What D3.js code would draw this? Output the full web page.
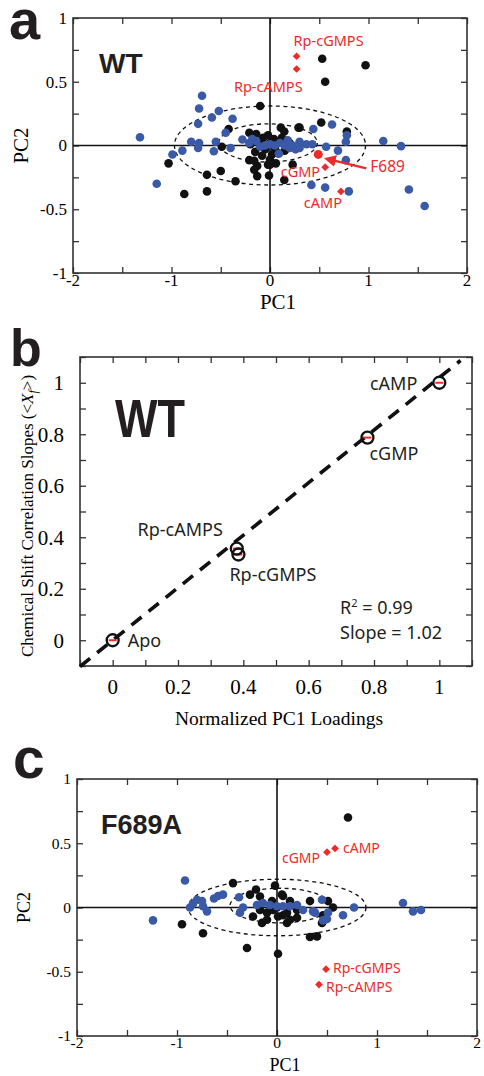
<!DOCTYPE html>
<html>
<head>
<meta charset="utf-8">
<script src="https://cdn.jsdelivr.net/npm/d3@7"></script>
<style>
  body { margin: 0; background: #fff; }
  svg { display: block; }
</style>
</head>
<body>
<div id="chart"></div>
<script>
// ---- data: panel a (WT PCA scores) ----
const wtBlack = [
  [-0.10, 0.31], [-0.42, 0.13], [-0.49, -0.01], [0.11, 0.14], [0.145, 0.11], [0.30, 0.14], [0.52, 0.18],
  [0.29, 0.14], [0.78, 0.11], [0.53, 0.68], [0.97, 0.63], [0.56, 0.50], [-1.03, -0.14], [-0.64, -0.23],
  [-0.50, -0.20], [-0.35, -0.28], [-0.87, -0.38], [-0.64, -0.36], [-0.21, -0.115], [-0.13, -0.16],
  [-0.13, -0.24], [-0.01, -0.235], [-0.02, -0.15], [0.06, -0.14], [0.145, -0.27], [0.23, -0.15],
  [-0.16, -0.12], [-0.16, -0.19], [0.0, -0.15], [-0.21, 0.10], [-0.14, 0.09], [-0.07, 0.06],
  [-0.10, 0.02], [-0.05, -0.03], [0.0, 0.02], [0.05, -0.02], [0.10, 0.03], [0.15, -0.04], [-0.15, -0.05],
  [-0.08, -0.08], [0.02, -0.07], [0.08, -0.06], [0.12, 0.06], [-0.02, 0.08], [0.20, 0.02], [-0.20, 0.01],
  [0.0, -0.11], [0.04, 0.05]
];
const wtBlue = [
  [-1.32, 0.065], [-0.69, 0.39], [-0.72, 0.29], [-0.52, 0.27], [-0.59, 0.22], [-0.38, 0.21], [-0.73, 0.17],
  [-0.45, 0.10], [-0.80, 0.03], [-0.72, 0.02], [-0.73, -0.02], [-0.55, 0.03], [-0.57, -0.045], [-0.89, -0.04],
  [-0.99, -0.07], [-1.15, -0.30], [0.44, 0.13], [0.63, 0.165], [0.78, 0.08], [0.77, 0.03], [1.15, 0.035],
  [1.33, -0.005], [0.57, -0.01], [0.69, -0.04], [0.37, 0.01], [0.43, 0.01], [0.30, 0.03], [0.23, 0.0],
  [0.26, -0.03], [0.77, -0.115], [0.42, -0.31], [0.56, -0.33], [0.80, -0.36], [1.41, -0.345], [1.57, -0.475],
  [0.09, -0.065], [-0.28, 0.047], [-0.21, 0.02], [-0.14, 0.035], [-0.10, -0.01], [-0.05, 0.0], [0.0, 0.01],
  [0.05, 0.0], [0.10, 0.02], [0.15, 0.0], [0.20, -0.02], [-0.18, 0.05], [0.18, 0.04], [-0.40, -0.02], [0.30, -0.02]
];
const wtLigandNames = ["Rp-cGMPS", "Rp-cAMPS", "cGMP", "cAMP"];
const wtLigandX = [0.27, 0.27, 0.56, 0.72];
const wtLigandY = [0.70, 0.60, -0.17, -0.36];
const wtF689 = [0.49, -0.07];
const wtEllipses = [[0, 0, 0.97, 0.31], [-0.02, 0.02, 0.50, 0.15]]; // cx, cy, rx, ry

// ---- data: panel b (correlation slopes vs PC1 loadings) ----
const slopeLigands = ["Apo", "Rp-cAMPS", "Rp-cGMPS", "cGMP", "cAMP"];
const pc1Loadings = [0, 0.38, 0.385, 0.78, 1.0];
const corrSlopes = [0, 0.356, 0.333, 0.787, 1.0];
const fitSlope = 1.02, fitIntercept = 0, fitR2 = 0.99;
const fitRange = [-0.1, 1.065];
const loadingTicks = [0, 0.2, 0.4, 0.6, 0.8, 1];

// ---- data: panel c (F689A PCA scores) ----
const f689aBlack = [
  [0.71, 0.70], [-0.44, 0.19], [-0.95, -0.13], [-0.74, -0.20], [-0.21, 0.14], [-0.17, 0.085], [-0.27, 0.10],
  [-0.02, 0.17], [-0.30, -0.315], [0.01, -0.36], [0.33, -0.23], [0.40, -0.225], [0.05, 0.10], [0.13, 0.05],
  [0.33, 0.05], [0.51, 0.05], [0.56, 0.0], [-0.24, -0.07], [-0.10, -0.095], [0.06, -0.06], [0.13, -0.095],
  [-0.17, -0.02], [-0.10, -0.04], [-0.04, -0.02], [0.01, -0.07], [0.10, -0.04], [0.20, -0.02], [0.46, -0.06],
  [0.45, -0.12], [0.10, -0.12], [0.06, 0.09], [-0.05, 0.05], [0.0, 0.0], [-0.15, -0.12], [0.20, -0.08]
];
const f689aBlue = [
  [-0.92, 0.21], [-1.24, -0.10], [-0.87, 0.0], [-0.84, 0.03], [-0.80, 0.06], [-0.75, 0.05], [-0.74, 0.01],
  [-0.70, -0.03], [-0.63, 0.07], [-0.59, 0.09], [-0.54, 0.10], [-0.38, 0.08], [-0.34, 0.0], [-0.37, -0.04],
  [-0.20, 0.02], [-0.14, 0.035], [-0.07, 0.02], [0.0, 0.01], [0.06, 0.01], [0.13, 0.01], [0.20, 0.02],
  [0.26, -0.02], [0.36, -0.03], [0.45, 0.06], [0.51, -0.04], [0.46, -0.10], [0.66, -0.06], [0.77, 0.0],
  [1.26, 0.035], [1.36, -0.03], [1.44, -0.02], [0.50, -0.09], [0.38, -0.04], [0.48, -0.095]
];
const f689aLigandNames = ["cGMP", "cAMP", "Rp-cGMPS", "Rp-cAMPS"];
const f689aLigandX = [0.50, 0.58, 0.49, 0.42];
const f689aLigandY = [0.43, 0.46, -0.48, -0.60];
const f689aEllipses = [[0, 0, 0.89, 0.22], [0.03, 0.015, 0.50, 0.135]];

const pcTicksX = [-2, -1, 0, 1, 2];
const pcTicksY = [-1, -0.5, 0, 0.5, 1];

// ---- drawing ----
const BLACK = "#111", BLUE = "#3a5aa8", RED = "#ee2b2b", AXIS = "#333";
const SANS = "'Noto Sans', 'Liberation Sans', sans-serif";
const SERIF = "'Liberation Serif', 'DejaVu Serif', serif";
const BOLD = "'Liberation Sans', Arial, sans-serif";

const svg = d3.select("#chart").append("svg").attr("width", 484).attr("height", 1076);

svg.append("defs").append("marker")
  .attr("id", "arrow").attr("viewBox", "0 0 10 10").attr("refX", 2).attr("refY", 5)
  .attr("markerWidth", 5).attr("markerHeight", 5).attr("orient", "auto-start-reverse")
  .append("path").attr("d", "M0,0 L10,5 L0,10 z").attr("fill", RED);

function boxAxes(g, x, y, xMinor, yMinor, tick) {
  const [x0, x1] = x.range(), [y0, y1] = y.range();
  const strip = a => { a.select(".domain").remove(); a.selectAll("line").attr("stroke", AXIS).attr("stroke-width", 1.3); };
  g.append("g").attr("transform", `translate(0,${y0})`)
    .call(d3.axisBottom(x).tickValues(xMinor).tickSize(-tick).tickFormat("")).call(strip);
  g.append("g").attr("transform", `translate(0,${y1})`)
    .call(d3.axisTop(x).tickValues(xMinor).tickSize(-tick).tickFormat("")).call(strip);
  g.append("g").attr("transform", `translate(${x0},0)`)
    .call(d3.axisLeft(y).tickValues(yMinor).tickSize(-tick).tickFormat("")).call(strip);
  g.append("g").attr("transform", `translate(${x1},0)`)
    .call(d3.axisRight(y).tickValues(yMinor).tickSize(-tick).tickFormat("")).call(strip);
  g.append("rect").attr("x", x0).attr("y", y1).attr("width", x1 - x0).attr("height", y0 - y1)
    .attr("fill", "none").attr("stroke", AXIS).attr("stroke-width", 1.6);
}

function tickLabels(g, x, y, xVals, yVals, size, padX, padY) {
  const [y0] = y.range(), [x0] = x.range();
  g.append("g").selectAll("text").data(xVals).join("text")
    .attr("x", d => x(d)).attr("y", y0 + padX).attr("dy", "0.72em")
    .attr("text-anchor", "middle").attr("font-family", SERIF).attr("font-size", size)
    .text(d => d3.format("~g")(d).replace("−", "-"));
  g.append("g").selectAll("text").data(yVals).join("text")
    .attr("x", x0 - padY).attr("y", d => y(d)).attr("dy", "0.35em")
    .attr("text-anchor", "end").attr("font-family", SERIF).attr("font-size", size)
    .text(d => d3.format("~g")(d).replace("−", "-"));
}

function pcPanel(o) {
  const g = svg.append("g");
  const x = d3.scaleLinear().domain([-2, 2]).range([o.left, o.right]);
  const y = d3.scaleLinear().domain([-1, 1]).range([o.bottom, o.top]);

  boxAxes(g, x, y, d3.range(-2, 2.01, 0.5), d3.range(-1, 1.01, 0.25), 6);
  tickLabels(g, x, y, pcTicksX, pcTicksY, o.tickSize, 1, 6);

  // zero lines
  g.append("line").attr("x1", x(-2)).attr("x2", x(2)).attr("y1", y(0)).attr("y2", y(0))
    .attr("stroke", BLACK).attr("stroke-width", 1.6);
  g.append("line").attr("x1", x(0)).attr("x2", x(0)).attr("y1", y(-1)).attr("y2", y(1))
    .attr("stroke", BLACK).attr("stroke-width", 1.6);

  // dashed ellipses
  g.append("g").selectAll("ellipse").data(o.ellipses).join("ellipse")
    .attr("cx", d => x(d[0])).attr("cy", d => y(d[1]))
    .attr("rx", d => x(d[2]) - x(0)).attr("ry", d => y(0) - y(d[3]))
    .attr("fill", "none").attr("stroke", BLACK).attr("stroke-width", 1.3).attr("stroke-dasharray", "4,3.5");

  g.append("g").selectAll("circle").data(o.black).join("circle")
    .attr("cx", d => x(d[0])).attr("cy", d => y(d[1])).attr("r", 4.3).attr("fill", BLACK);
  g.append("g").selectAll("circle").data(o.blue).join("circle")
    .attr("cx", d => x(d[0])).attr("cy", d => y(d[1])).attr("r", 4.3).attr("fill", BLUE);

  const lig = o.names.map((n, i) => ({ name: n, x: o.lx[i], y: o.ly[i] }));
  g.append("g").selectAll("path").data(lig).join("path")
    .attr("transform", d => `translate(${x(d.x)},${y(d.y)}) rotate(45)`)
    .attr("d", d3.symbol(d3.symbolSquare, 30)).attr("fill", RED);
  g.append("g").selectAll("text").data(lig).join("text")
    .attr("x", d => x(d.x) + o.labelOff[d.name][0]).attr("y", d => y(d.y) + o.labelOff[d.name][1])
    .attr("text-anchor", d => o.labelOff[d.name][2])
    .attr("font-family", SANS).attr("font-size", o.ligSize).attr("fill", RED)
    .text(d => d.name);

  if (o.f689) {
    const px = x(o.f689[0]), py = y(o.f689[1]);
    g.append("circle").attr("cx", px).attr("cy", py).attr("r", 4.5).attr("fill", RED);
    g.append("line").attr("x1", px + 48).attr("y1", py + 14).attr("x2", px + 15).attr("y2", py + 6)
      .attr("stroke", RED).attr("stroke-width", 2.4).attr("marker-end", "url(#arrow)");
    g.append("text").attr("x", px + 52).attr("y", py + 18)
      .attr("font-family", SANS).attr("font-size", o.ligSize + 1).attr("fill", RED).text("F689");
  }

  // titles
  g.append("text").attr("x", o.titleX).attr("y", o.titleY)
    .attr("font-family", BOLD).attr("font-weight", "bold").attr("font-size", o.titleSize)
    .attr("fill", "#231f20").text(o.title);
  g.append("text").attr("x", (o.left + o.right) / 2 + 8).attr("y", o.xLabelY)
    .attr("text-anchor", "middle").attr("font-family", SERIF).attr("font-size", o.axisSize).text("PC1");
  g.append("text").attr("transform", `translate(${o.yLabelX},${(o.top + o.bottom) / 2}) rotate(-90)`)
    .attr("text-anchor", "middle").attr("font-family", SERIF).attr("font-size", o.axisSize).text("PC2");
}

// panel letters
[["a", 9, 39, 56], ["b", 10, 366, 52], ["c", 13, 778, 57]].forEach(([t, lx, ly, fs]) => {
  svg.append("text").attr("x", lx).attr("y", ly)
    .attr("font-family", BOLD).attr("font-weight", "bold").attr("font-size", fs)
    .attr("fill", "#231f20").text(t);
});

// panel a
pcPanel({
  left: 73, right: 467, top: 18, bottom: 273,
  black: wtBlack, blue: wtBlue, ellipses: wtEllipses,
  names: wtLigandNames, lx: wtLigandX, ly: wtLigandY, f689: wtF689,
  labelOff: { "Rp-cGMPS": [-3, -10, "start"], "Rp-cAMPS": [6, 23, "end"], "cGMP": [-5, 10, "end"], "cAMP": [-18, 17, "middle"] },
  ligSize: 14.5, tickSize: 17, axisSize: 21, xLabelY: 309, yLabelX: 28,
  title: "WT", titleX: 99, titleY: 73, titleSize: 28
});

// panel c
pcPanel({
  left: 77, right: 477, top: 779, bottom: 1036,
  black: f689aBlack, blue: f689aBlue, ellipses: f689aEllipses,
  names: f689aLigandNames, lx: f689aLigandX, ly: f689aLigandY, f689: null,
  labelOff: { "cGMP": [-7, 11, "end"], "cAMP": [8, 5, "start"], "Rp-cGMPS": [7, 4, "start"], "Rp-cAMPS": [7, 7, "start"] },
  ligSize: 14, tickSize: 15.5, axisSize: 18, xLabelY: 1071, yLabelX: 30,
  title: "F689A", titleX: 101, titleY: 834, titleSize: 27
});

// panel b
(function () {
  const g = svg.append("g");
  const x = d3.scaleLinear().domain([-0.1, 1.1]).range([80, 472]);
  const y = d3.scaleLinear().domain([-0.1, 1.1]).range([666, 357]);
  boxAxes(g, x, y, d3.range(-0.1, 1.101, 0.1), d3.range(-0.1, 1.101, 0.1), 6);
  tickLabels(g, x, y, loadingTicks, loadingTicks, 21, 13, 16);

  g.append("line")
    .attr("x1", x(fitRange[0])).attr("y1", y(fitSlope * fitRange[0] + fitIntercept))
    .attr("x2", x(fitRange[1])).attr("y2", y(fitSlope * fitRange[1] + fitIntercept))
    .attr("stroke", BLACK).attr("stroke-width", 3.6).attr("stroke-dasharray", "13,9");

  const pts = slopeLigands.map((n, i) => ({ name: n, x: pc1Loadings[i], y: corrSlopes[i] }));
  g.append("g").selectAll("line").data(pts).join("line")
    .attr("x1", d => x(d.x) - 4).attr("x2", d => x(d.x) + 4)
    .attr("y1", d => y(d.y)).attr("y2", d => y(d.y))
    .attr("stroke", RED).attr("stroke-width", 2);
  g.append("g").selectAll("circle").data(pts).join("circle")
    .attr("cx", d => x(d.x)).attr("cy", d => y(d.y)).attr("r", 6)
    .attr("fill", "none").attr("stroke", BLACK).attr("stroke-width", 2.3);

  const off = { "Apo": [15, 7, "start"], "Rp-cAMPS": [-14, -13, "end"], "Rp-cGMPS": [-9, 26, "start"],
                "cGMP": [2, 22, "start"], "cAMP": [-22, 7, "end"] };
  g.append("g").selectAll("text").data(pts).join("text")
    .attr("x", d => x(d.x) + off[d.name][0]).attr("y", d => y(d.y) + off[d.name][1])
    .attr("text-anchor", d => off[d.name][2])
    .attr("font-family", SANS).attr("font-size", 18).attr("fill", "#231f20").text(d => d.name);

  const r2 = g.append("text").attr("x", 340).attr("y", 614).attr("font-family", SANS).attr("font-size", 18).attr("fill", "#231f20");
  r2.append("tspan").text("R");
  r2.append("tspan").attr("dy", -7).attr("font-size", 11).text("2");
  r2.append("tspan").attr("dy", 7).text(" = " + d3.format(".2f")(fitR2));
  g.append("text").attr("x", 340).attr("y", 639).attr("font-family", SANS).attr("font-size", 18)
    .attr("fill", "#231f20").text("Slope = " + d3.format(".2f")(fitSlope));

  g.append("text").attr("x", 115).attr("y", 437).attr("textLength", 70).attr("lengthAdjust", "spacingAndGlyphs")
    .attr("font-family", BOLD).attr("font-weight", "bold").attr("font-size", 54).attr("fill", "#231f20").text("WT");

  g.append("text").attr("x", 279).attr("y", 725).attr("text-anchor", "middle")
    .attr("font-family", SERIF).attr("font-size", 19.5).text("Normalized PC1 Loadings");
  const yl = g.append("text").attr("transform", "translate(33,516) rotate(-90)").attr("text-anchor", "middle")
    .attr("font-family", SERIF).attr("font-size", 17);
  yl.append("tspan").text("Chemical Shift Correlation Slopes (<");
  yl.append("tspan").attr("font-style", "italic").text("X");
  yl.append("tspan").attr("font-style", "italic").attr("font-size", 12).attr("dy", 4).text("f");
  yl.append("tspan").attr("dy", -4).text(">)");
})();
</script>
</body>
</html>
